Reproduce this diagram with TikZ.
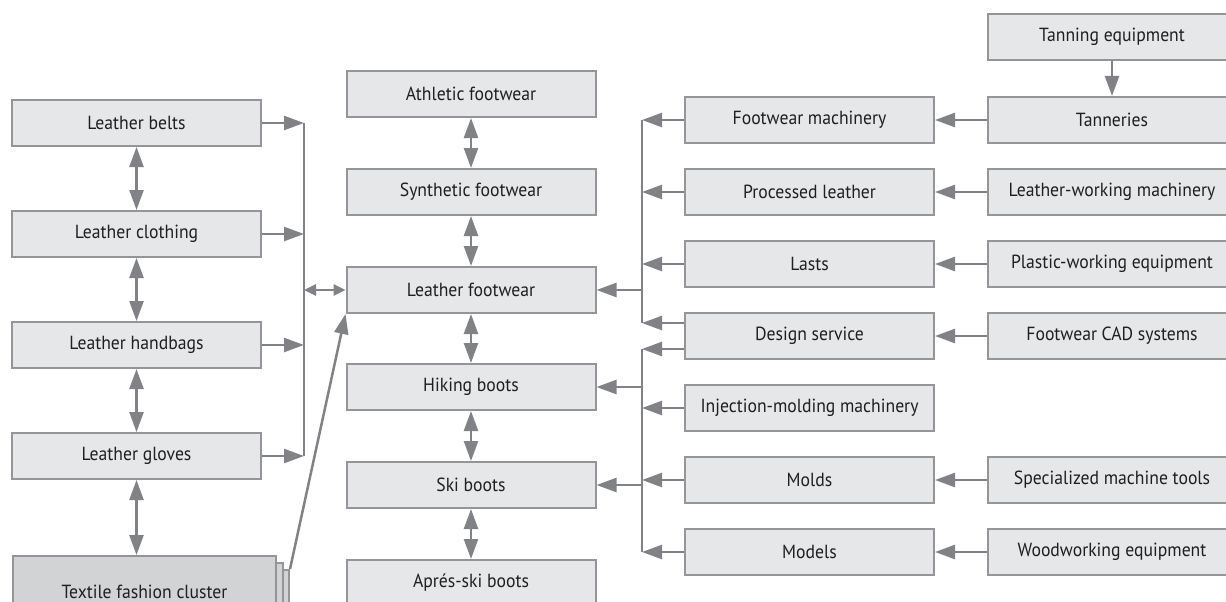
\documentclass[tikz,border=0pt]{standalone}
\usepackage{fontspec}
\setmainfont{PT Sans}[FakeStretch=0.93]
\usetikzlibrary{arrows.meta}
\definecolor{boxfill}{RGB}{230,231,232}
\definecolor{textfill}{RGB}{209,211,212}
\definecolor{boxline}{RGB}{147,149,152}
\definecolor{arrowgray}{RGB}{128,130,133}
\tikzset{
    box/.style={draw=boxline,fill=boxfill,line width=2pt,minimum width=249pt,minimum height=46pt,inner sep=0pt,font=\fontsize{19}{22}\selectfont,text=black!88},
    link/.style={draw=arrowgray,line width=2.5pt},
    arr/.style={link,-{Triangle[length=20pt,width=14pt]}},
    dbl/.style={link,{Triangle[length=20pt,width=14pt]}-{Triangle[length=20pt,width=14pt]}},
    smalldbl/.style={link,{Triangle[length=12pt,width=11pt]}-{Triangle[length=12pt,width=11pt]}}
}

\begin{document}
\begin{tikzpicture}[x=1pt,y=-1pt]
                            \useasboundingbox (0,0) rectangle (1226,602);
                            % left column
                            \node[box] (belts) at (136.5,123) {Leather belts};
                            \node[box] (clothing) at (136.5,234) {Leather clothing};
                            \node[box] (handbags) at (136.5,345) {Leather handbags};
                            \node[box] (gloves) at (136.5,456) {Leather gloves};
                            \node[box,fill=textfill,minimum width=263pt,minimum height=72pt] (textback2) at (157.5,606) {};
                            \node[box,fill=textfill,minimum width=263pt,minimum height=72pt] (textback1) at (151,599) {};
                            \node[box,fill=textfill,minimum width=263pt,minimum height=72pt] (textile) at (144.5,592) {Textile fashion cluster};
                            % middle column
                            \node[box] (athletic) at (471,94) {Athletic footwear};
                            \node[box] (synthetic) at (471,192) {Synthetic footwear};
                            \node[box] (leatherfw) at (471,290) {Leather footwear};
                            \node[box] (hiking) at (471,387) {Hiking boots};
                            \node[box] (skiboots) at (471,485) {Ski boots};
                            \node[box] (apres) at (471,583) {Aprés-ski boots};
                            % suppliers
                            \node[box] (fwmach) at (809.5,120) {Footwear machinery};
                            \node[box] (procleather) at (809.5,192) {Processed leather};
                            \node[box] (lasts) at (809.5,264) {Lasts};
                            \node[box] (design) at (809.5,336) {Design service};
                            \node[box] (injection) at (809.5,408) {Injection-molding machinery};
                            \node[box] (molds) at (809.5,480) {Molds};
                            \node[box] (models) at (809.5,552) {Models};
                            \node[box] (tanequip) at (1112,37) {Tanning equipment};
                            \node[box] (tanneries) at (1112,120) {Tanneries};
                            \node[box] (lwmach) at (1112,192) {Leather-working machinery};
                            \node[box] (plastic) at (1112,264) {Plastic-working equipment};
                            \node[box] (cad) at (1112,336) {Footwear CAD systems};
                            \node[box] (machtools) at (1112,480) {Specialized machine tools};
                            \node[box] (woodwork) at (1112,552) {Woodworking equipment};
                            % buses
                            \coordinate (lbustop) at (304,123);
                            \coordinate (lbusbot) at (304,456);
                            \coordinate (lbusmid) at (304,290);
                            \coordinate (ubustop) at (642,120);
                            \coordinate (ubusbot) at (642,323);
                            \coordinate (dbustop) at (642,349);
                            \coordinate (dbusbot) at (642,552);
                            \draw[link] (lbustop) -- (lbusbot);
                            \draw[link] (ubustop) -- (ubusbot);
                            \draw[link] (dbustop) -- (dbusbot);
                            \draw[dbl] (belts) -- (clothing);
                            \draw[dbl] (clothing) -- (handbags);
                            \draw[dbl] (handbags) -- (gloves);
                            \draw[dbl] (gloves.south) -- (gloves.south |- textile.north);
                            \draw[arr] (belts) -- (lbustop);
                            \draw[arr] (clothing) -- (clothing -| lbustop);
                            \draw[arr] (handbags) -- (handbags -| lbustop);
                            \draw[arr] (gloves) -- (lbusbot);
                            \draw[smalldbl] (lbusmid) -- (leatherfw);
                            \draw[arr] (textback2.north east) -- (leatherfw.south west);
                            \draw[dbl] (athletic) -- (synthetic);
                            \draw[dbl] (synthetic) -- (leatherfw);
                            \draw[dbl] (leatherfw) -- (hiking);
                            \draw[dbl] (hiking) -- (skiboots);
                            \draw[dbl] (skiboots) -- (apres);
                            \draw[arr] (tanequip) -- (tanneries);
                            \draw[arr] (tanneries) -- (fwmach);
                            \draw[arr] (lwmach) -- (procleather);
                            \draw[arr] (plastic) -- (lasts);
                            \draw[arr] (cad) -- (design);
                            \draw[arr] (machtools) -- (molds);
                            \draw[arr] (woodwork) -- (models);
                            \draw[arr] (fwmach) -- (ubustop);
                            \draw[arr] (procleather) -- (procleather -| ubustop);
                            \draw[arr] (lasts) -- (lasts -| ubustop);
                            \draw[arr] ([yshift=13pt]design.west) -- (ubusbot);
                            \draw[arr] ([yshift=-13pt]design.west) -- (dbustop);
                            \draw[arr] (injection) -- (injection -| dbustop);
                            \draw[arr] (molds) -- (molds -| dbustop);
                            \draw[arr] (models) -- (dbusbot);
                            \draw[arr] (leatherfw -| ubustop) -- (leatherfw);
                            \draw[arr] (hiking -| dbustop) -- (hiking);
                            \draw[arr] (skiboots -| dbustop) -- (skiboots);
                        \end{tikzpicture}
\end{document}
